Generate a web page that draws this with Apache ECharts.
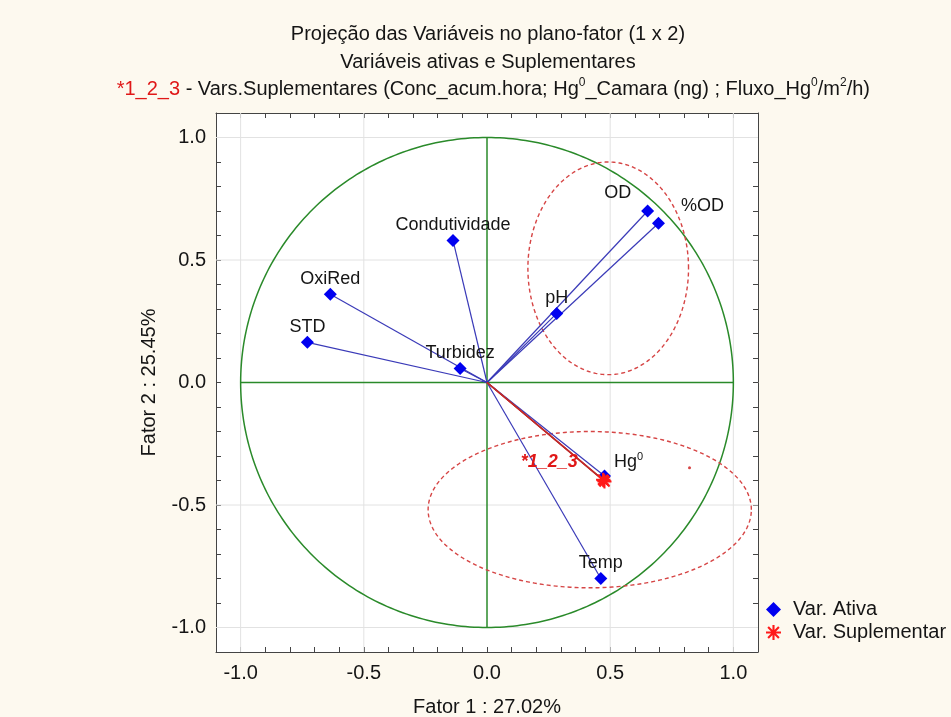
<!DOCTYPE html>
<html><head><meta charset="utf-8">
<script src="https://cdn.jsdelivr.net/npm/echarts@6/dist/echarts.min.js"></script>
<style>html,body{margin:0;padding:0;background:#fdf9ef;}#c{width:951px;height:717px;}</style>
</head><body><div id="c"></div>
<script>
// ---- data ----
const ACTIVE_NAMES = ['OD', '%OD', 'pH', 'Condutividade', 'OxiRed', 'STD', 'Turbidez', 'Hg0', 'Temp'];
const ACTIVE_X = [0.652, 0.696, 0.283, -0.138, -0.636, -0.729, -0.109, 0.477, 0.462];
const ACTIVE_Y = [0.700, 0.650, 0.282, 0.580, 0.360, 0.164, 0.057, -0.382, -0.800];
const SUPP_NAMES = ['Conc_acum.hora', 'Hg0_Camara (ng)', 'Fluxo_Hg0/m2/h'];
const SUPP_X = [0.474, 0.477, 0.471];
const SUPP_Y = [-0.400, -0.404, -0.397];
const SUPP_GROUP_LABEL = '*1_2_3';
const ELLIPSE_CX = [0.492, 0.417];
const ELLIPSE_CY = [0.466, -0.519];
const ELLIPSE_RX = [0.326, 0.656];
const ELLIPSE_RY = [0.434, 0.319];
const STRAY_DOT = [[0.822, -0.348]];
const TICK_LABELS = [-1.0, -0.5, 0.0, 0.5, 1.0];
const AXIS_MIN = -1.1, AXIS_MAX = 1.1, MINOR_STEP = 0.1;
const X_NAME = 'Fator 1 : 27.02%';
const Y_NAME = 'Fator 2 : 25.45%';
const LEGEND_ACTIVE = 'Var. Ativa';
const LEGEND_SUPP = 'Var. Suplementar';
const TITLE_1 = 'Projeção das Variáveis no plano-fator (1 x 2)';
const TITLE_2 = 'Variáveis ativas e Suplementares';

// ---- styles ----
const FONT = "'Liberation Sans', Arial, sans-serif";
const TXT = '#151515';
const GREEN = '#2a8a2a';
const BLUE = '#0000f0';
const RED = '#ff1a1a';
const ASTERISK = 'path://M43,0L57,0L57,100L43,100Z M0,43L100,43L100,57L0,57Z M9,19L19,9L91,81L81,91Z M81,9L91,19L19,91L9,81Z';
const LABEL_POS = {
  'OD': {position: 'left', distance: 10, offset: [0, -18]},
  '%OD': {position: 'right', distance: 16, offset: [0, -17]},
  'Hg0': {position: 'right', distance: 3, offset: [0, -14]}
};
const LABEL_TEXT = {'Hg0': 'Hg{s|0}'};

function fmtTick(v) {
  const hit = TICK_LABELS.some(t => Math.abs(t - v) < 1e-6);
  if (!hit) return '';
  if (Math.abs(v) < 1e-6) return '0.0';
  return v.toFixed(1);
}

const chart = echarts.init(document.getElementById('c'));

function seg(a, b, style) {
  return {type: 'line', shape: {x1: a[0], y1: a[1], x2: b[0], y2: b[1]}, style: style};
}

function renderReference(params, api) {
  const ch = [];
  const grid = {stroke: '#e2e2e2', lineWidth: 1};
  TICK_LABELS.forEach(t => {
    if (Math.abs(t) < 1e-9) return;
    ch.push(seg(api.coord([t, AXIS_MIN]), api.coord([t, AXIS_MAX]), grid));
    ch.push(seg(api.coord([AXIS_MIN, t]), api.coord([AXIS_MAX, t]), grid));
  });
  const g = {stroke: GREEN, lineWidth: 1.5};
  ch.push(seg(api.coord([-1, 0]), api.coord([1, 0]), g));
  ch.push(seg(api.coord([0, -1]), api.coord([0, 1]), g));
  const pts = [];
  for (let i = 0; i <= 360; i++) {
    const a = i * Math.PI / 180;
    pts.push(api.coord([Math.cos(a), Math.sin(a)]));
  }
  ch.push({type: 'polyline', shape: {points: pts}, style: {stroke: GREEN, lineWidth: 1.5, fill: null}});
  return {type: 'group', children: ch};
}

function renderEllipse(params, api) {
  const cx = api.value(0), cy = api.value(1), rx = api.value(2), ry = api.value(3);
  const pts = [];
  for (let i = 0; i <= 360; i++) {
    const a = i * Math.PI / 180;
    pts.push(api.coord([cx + rx * Math.cos(a), cy + ry * Math.sin(a)]));
  }
  return {type: 'polyline', shape: {points: pts},
    style: {stroke: '#d64545', lineWidth: 1.4, lineDash: [4, 3], fill: null}};
}

function makeVectorRenderer(color, width) {
  return function (params, api) {
    const o = api.coord([0, 0]);
    const p = api.coord([api.value(0), api.value(1)]);
    return seg(o, p, {stroke: color, lineWidth: width});
  };
}

const activeData = ACTIVE_NAMES.map((n, i) => {
  const d = {name: n, value: [ACTIVE_X[i], ACTIVE_Y[i]]};
  const lp = LABEL_POS[n] || {position: 'top', distance: 0, offset: [0, 0]};
  d.label = Object.assign({formatter: LABEL_TEXT[n] || n}, lp);
  return d;
});
const suppData = SUPP_NAMES.map((n, i) => {
  const d = {name: n, value: [SUPP_X[i], SUPP_Y[i]]};
  if (i === 0) {
    d.label = {show: true, formatter: SUPP_GROUP_LABEL, position: 'left', distance: 19, offset: [0, -18],
      color: '#e01818', fontWeight: 'bold', fontStyle: 'italic', fontSize: 18, fontFamily: FONT};
  }
  return d;
});
const ellipseData = ELLIPSE_CX.map((c, i) => [c, ELLIPSE_CY[i], ELLIPSE_RX[i], ELLIPSE_RY[i]]);

const axisCommon = {
  type: 'value', min: AXIS_MIN, max: AXIS_MAX, interval: MINOR_STEP,
  axisLine: {show: true, onZero: false, lineStyle: {color: '#444', width: 1}},
  axisTick: {show: true, inside: true, length: 5, lineStyle: {color: '#444'}},
  splitLine: {show: false}
};

const nrm = {fontSize: 20, lineHeight: 24, color: TXT, fontFamily: FONT};
const sup = {fontSize: 12, verticalAlign: 'top', lineHeight: 24, color: TXT, fontFamily: FONT};
const titleStyle = {fontSize: 20, fontWeight: 'normal', color: TXT, fontFamily: FONT, lineHeight: 24};

chart.setOption({
  backgroundColor: '#fdf9ef',
  animation: false,
  textStyle: {fontFamily: FONT},
  title: [
    {text: TITLE_1, left: 488, top: 22, textAlign: 'center', padding: 0, textStyle: titleStyle},
    {text: TITLE_2, left: 488, top: 50, textAlign: 'center', padding: 0, textStyle: titleStyle},
    {text: '{r|*1_2_3}{n| - Vars.Suplementares (Conc_acum.hora; Hg}{s|0}{n|_Camara (ng) ; Fluxo_Hg}{s|0}{n|/m}{s|2}{n|/h)}',
      left: 870, top: 77, textAlign: 'right', padding: 0,
      textStyle: Object.assign({}, titleStyle, {
        rich: {r: Object.assign({}, nrm, {color: '#e01818'}), n: nrm, s: sup}})}
  ],
  legend: {
    orient: 'vertical', left: 761, top: 593, itemWidth: 15, itemHeight: 15, itemGap: 0,
    data: [LEGEND_ACTIVE, LEGEND_SUPP],
    textStyle: {fontSize: 20, lineHeight: 23, color: TXT, fontFamily: FONT, padding: [0, 0, 0, 7]}
  },
  grid: {left: 216, top: 113, width: 542, height: 539, show: true, backgroundColor: '#ffffff', borderWidth: 0,
    containLabel: false, outerBoundsMode: 'none'},
  xAxis: [
    Object.assign({}, axisCommon, {position: 'bottom', name: X_NAME, nameLocation: 'middle', nameGap: 45,
      nameTextStyle: {fontSize: 20, color: TXT, fontFamily: FONT},
      axisLabel: {formatter: fmtTick, fontSize: 20, color: TXT, margin: 11, fontFamily: FONT}}),
    Object.assign({}, axisCommon, {position: 'top', axisLabel: {show: false}})
  ],
  yAxis: [
    Object.assign({}, axisCommon, {position: 'left', name: Y_NAME, nameLocation: 'middle', nameGap: 57,
      nameTextStyle: {fontSize: 20, color: TXT, fontFamily: FONT},
      axisLabel: {formatter: fmtTick, fontSize: 20, color: TXT, margin: 10, fontFamily: FONT}}),
    Object.assign({}, axisCommon, {position: 'right', axisLabel: {show: false}})
  ],
  series: [
    {type: 'custom', name: 'ref', data: [[0, 0]], renderItem: renderReference, silent: true, z: 1},
    {type: 'custom', name: 'ellipses', data: ellipseData, renderItem: renderEllipse, silent: true, z: 2,
      encode: {x: 0, y: 1}},
    {type: 'custom', name: 'activeVectors', data: activeData.map(d => d.value),
      renderItem: makeVectorRenderer('#3a3ab8', 1.2), silent: true, z: 3},
    {type: 'custom', name: 'suppVectors', data: suppData.map(d => d.value),
      renderItem: makeVectorRenderer('#c02a2a', 1.5), silent: true, z: 4},
    {type: 'scatter', name: LEGEND_ACTIVE, data: activeData, symbol: 'diamond', symbolSize: [13, 13],
      symbolKeepAspect: true, z: 5,
      itemStyle: {color: BLUE, opacity: 1},
      label: {show: true, fontSize: 18, color: TXT, fontFamily: FONT, textBorderWidth: 0, opacity: 1,
        rich: {s: {fontSize: 11, verticalAlign: 'top', lineHeight: 21, color: TXT, fontFamily: FONT}}}},
    {type: 'scatter', name: LEGEND_SUPP, data: suppData, symbol: ASTERISK, symbolSize: 14,
      symbolKeepAspect: true, z: 6,
      itemStyle: {color: RED, opacity: 1}},
    {type: 'scatter', name: 'stray', data: STRAY_DOT, symbol: 'circle', symbolSize: 3, z: 6,
      itemStyle: {color: '#d64545', opacity: 1}, silent: true}
  ]
});
</script></body></html>
